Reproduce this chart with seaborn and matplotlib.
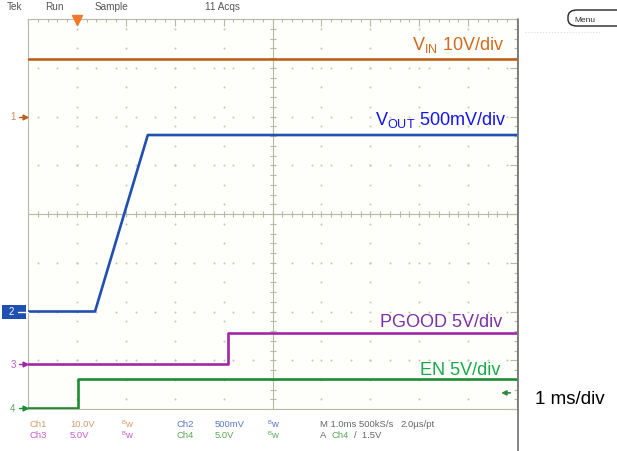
import numpy as np
import pandas as pd
import matplotlib
matplotlib.use("Agg")
import matplotlib.pyplot as plt
from matplotlib.patches import FancyBboxPatch, Rectangle
import seaborn as sns

# scope screen: 10 x 8 divisions, 1 ms/div
# channel traces (time in ms, level in volts)
vin_t = [0.0, 10.0]
vin_v = [11.8, 11.8]
vout_t = [0.0, 1.37, 2.45, 10.0]
vout_v = [0.0, 0.0, 1.81, 1.81]
pgood_t = [0.0, 4.09, 4.09, 10.0]
pgood_v = [0.0, 0.0, 3.1, 3.1]
en_t = [0.0, 1.02, 1.02, 10.0]
en_v = [0.0, 0.0, 2.9, 2.9]

# volts per division and ground marker position (div from centre)
ch_scale = {"VIN": 10.0, "VOUT": 0.5, "PGOOD": 5.0, "EN": 5.0}
ch_offset = {"VIN": 2.0, "VOUT": -2.0, "PGOOD": -3.07, "EN": -3.97}
ch_color = {"VIN": "#c0601c", "VOUT": "#1f4fb0", "PGOOD": "#a226a6", "EN": "#1e8c34"}
label_color = {"VIN": "#d2691e", "VOUT": "#1414f0", "PGOOD": "#7b30aa", "EN": "#14aa4c"}

trigger_t = 1.0
trigger_level = 1.5  # on EN (Ch4)

W, H = 617, 452
sns.set_style("white")
plt.rcParams["font.family"] = ["Liberation Sans", "DejaVu Sans"]
plt.rcParams["mathtext.default"] = "regular"

fig = plt.figure(figsize=(W / 100, H / 100), dpi=100)
ax = fig.add_axes([28 / W, 42 / H, 489 / W, 390 / H])
ax.set_facecolor("#fefefa")
gc = "#b8b8a6"

# traces
rows = []
for name, t, v in [("VIN", vin_t, vin_v), ("VOUT", vout_t, vout_v),
                   ("PGOOD", pgood_t, pgood_v), ("EN", en_t, en_v)]:
    for i, (ti, vi) in enumerate(zip(t, v)):
        rows.append({"ch": name, "order": i, "t": ti,
                     "div": ch_offset[name] + vi / ch_scale[name]})
df = pd.DataFrame(rows)
for name in ["VIN", "VOUT", "PGOOD", "EN"]:
    sns.lineplot(data=df[df.ch == name], x="t", y="div", sort=False, estimator=None,
                 color=ch_color[name], lw=1.9, ax=ax, zorder=5)

ax.set_xlim(0, 10)
ax.set_ylim(-4, 4)
ax.set_xlabel("")
ax.set_ylabel("")

# border ticks
ax.set_xticks(np.arange(0, 11, 1))
ax.set_yticks(np.arange(-4, 5, 1))
ax.set_xticks(np.arange(0, 10.01, 0.2), minor=True)
ax.set_yticks(np.arange(-4, 4.01, 0.2), minor=True)
ax.tick_params(which="both", direction="in", top=True, right=True, labelbottom=False,
               labelleft=False, color=gc, width=0.8)
ax.tick_params(which="major", length=5)
ax.tick_params(which="minor", length=2.5)
for s in ax.spines.values():
    s.set_color(gc)
    s.set_linewidth(0.8)

# dotted grid
dc = "#c4c4b4"
for x in range(1, 10):
    if x == 5:
        continue
    ys = np.arange(-3.8, 3.81, 0.4)
    ax.plot([x] * len(ys), ys, ls="none", marker="o", ms=1.4, color=dc, mew=0)
for y in range(-3, 4):
    if y == 0:
        continue
    xs = np.arange(0.2, 9.81, 0.4)
    ax.plot(xs, [y] * len(xs), ls="none", marker="o", ms=1.4, color=dc, mew=0)

# centre cross
ax.axhline(0, color=gc, lw=0.8)
ax.axvline(5, color=gc, lw=0.8)
xs = np.arange(0, 10.01, 0.2)
ax.plot(xs, np.zeros_like(xs), ls="none", marker="|", ms=5, mew=0.8, color=gc)
ys = np.arange(-4, 4.01, 0.2)
ax.plot(np.full_like(ys, 5), ys, ls="none", marker="_", ms=5, mew=0.8, color=gc)


def px(x, y):
    return x / W, 1 - y / H


# trace labels
fs = 13
fig.text(*px(504, 50), r"V$_{\mathregular{IN}}$ 10V/div", color=label_color["VIN"],
         fontsize=fs, ha="right", va="baseline")
fig.text(*px(506, 125), r"V$_{\mathregular{OUT}}$ 500mV/div", color=label_color["VOUT"],
         fontsize=fs, ha="right", va="baseline")
fig.text(*px(502, 327), "PGOOD 5V/div", color=label_color["PGOOD"],
         fontsize=fs, ha="right", va="baseline")
fig.text(*px(500, 375), "EN 5V/div", color=label_color["EN"],
         fontsize=fs, ha="right", va="baseline")
fig.text(*px(535, 404), "1 ms/div", color="black", fontsize=13.5, ha="left", va="baseline")

# header
hc = "#555555"
for x, s in [(7, "Tek"), (45, "Run"), (95, "Sample"), (205, "11 Acqs")]:
    fig.text(*px(x, 10), s, color=hc, fontsize=7.2, ha="left", va="baseline")

# trigger position marker
ax.plot([trigger_t], [3.97], marker="v", ms=6.5, color="#f07828", clip_on=False, zorder=6)
# trigger level arrow on right
lvl = ch_offset["EN"] + trigger_level / ch_scale["EN"]
ax.annotate("", xy=(9.62, lvl), xytext=(9.92, lvl),
            arrowprops=dict(arrowstyle="-|>", color="#2e8b3a", lw=1.2, mutation_scale=7))

# channel ground markers on left
for name, num in [("VIN", "1"), ("PGOOD", "3"), ("EN", "4")]:
    y = (42 + (ch_offset[name] + 4) / 8 * 390) / H
    fig.text(13 / W, y, num, color=ch_color[name], fontsize=7, ha="center", va="center",
             alpha=0.75)
    fig.lines.append(plt.Line2D([19 / W, 27 / W], [y, y], transform=fig.transFigure,
                                color=ch_color[name], lw=1))
    fig.lines.append(plt.Line2D([25 / W], [y], transform=fig.transFigure, marker=">",
                                ms=3.5, color=ch_color[name], lw=0))
y2 = (42 + (ch_offset["VOUT"] + 4) / 8 * 390) / H
fig.patches.append(Rectangle((2 / W, y2 - 7 / H), 24 / W, 14 / H, transform=fig.transFigure,
                             facecolor="#1f4fb0", edgecolor="none"))
fig.text(11 / W, y2, "2", color="white", fontsize=7, ha="center", va="center")
fig.lines.append(plt.Line2D([18 / W, 28 / W], [y2, y2], transform=fig.transFigure,
                            color="white", lw=1))

# footer
row1 = [(30, "Ch1", "#d39a6a"), (70, "10.0V", "#d39a6a"), (122, None, "#d39a6a"),
        (177, "Ch2", "#5a78c8"), (215, "500mV", "#5a78c8"), (268, None, "#5a78c8"),
        (320, "M 1.0ms 500kS/s", "#666666"), (400, "2.0µs/pt", "#666666")]
row2 = [(30, "Ch3", "#c45cc8"), (70, "5.0V", "#c45cc8"), (122, None, "#c45cc8"),
        (177, "Ch4", "#5aa85a"), (215, "5.0V", "#5aa85a"), (268, None, "#5aa85a"),
        (320, "A", "#666666"), (331, "Ch4", "#5aa85a"), (354, "/  1.5V", "#666666")]
for base, row in [(427, row1), (438, row2)]:
    for x, s, c in row:
        if s is None:
            # bandwidth-limit glyph: small B followed by w
            fig.text(*px(x, base - 3), "B", color=c, fontsize=4.2, ha="left", va="baseline")
            fig.text(*px(x + 3.5, base), "w", color=c, fontsize=6.8, ha="left", va="baseline")
        else:
            fig.text(*px(x, base), s, color=c, fontsize=6.8, ha="left", va="baseline")

# right frame edge of the scope screen
fig.lines.append(plt.Line2D([518 / W, 518 / W], [0, 1 - 20 / H], transform=fig.transFigure,
                            color="#6e6e6e", lw=1.2))
fig.lines.append(plt.Line2D([525 / W, 600 / W], [1 - 33 / H, 1 - 33 / H],
                            transform=fig.transFigure, color="#dddddd", lw=0.8, ls=":"))

# menu button
fig.patches.append(FancyBboxPatch((568 / W, 1 - 27 / H), 60 / W, 16 / H,
                                  boxstyle="round,pad=0,rounding_size=0.015",
                                  transform=fig.transFigure, facecolor="white",
                                  edgecolor="#222222", lw=1))
fig.text(*px(574, 22), "Menu", color="#333333", fontsize=6, ha="left", va="baseline")

fig.savefig("out.png", dpi=100, facecolor="white")
